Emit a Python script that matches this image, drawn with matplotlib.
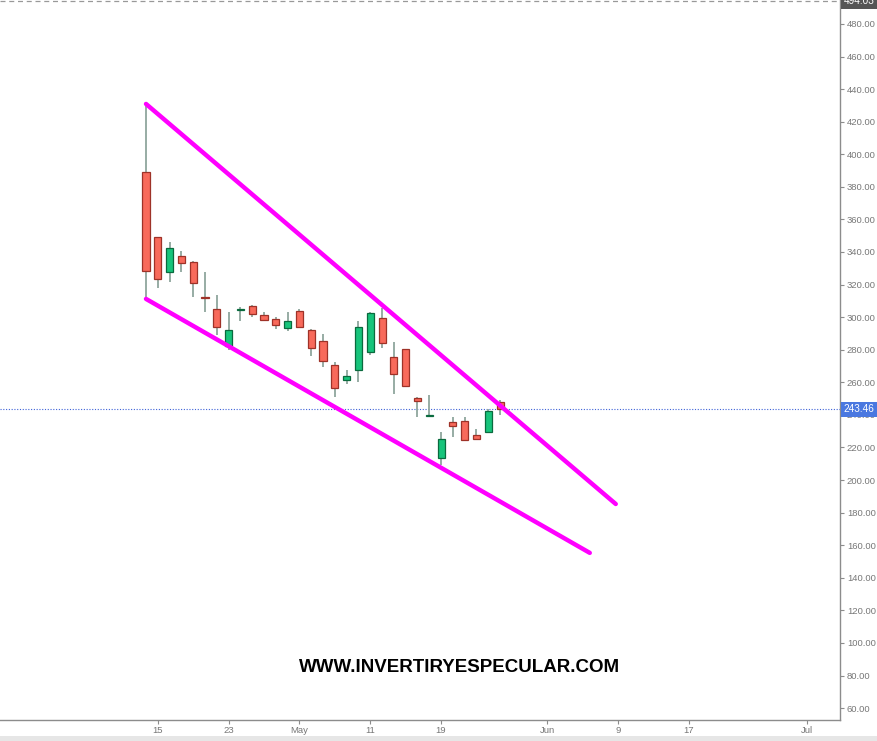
import numpy as np
import matplotlib.pyplot as plt
from matplotlib.patches import Rectangle

# OHLC (one candle per trading day)
opens = [389.0, 349.2, 327.6, 337.6, 333.9, 312.2, 305.0, 282.0, 304.3, 307.0,
         301.3, 298.7, 293.2, 304.0, 292.2, 285.4, 270.5, 261.3, 267.4, 278.8,
         299.3, 275.8, 280.3, 250.6, 239.3, 213.8, 235.9, 236.1, 227.7, 229.7,
         247.8]
highs = [430.9, 349.5, 346.4, 340.8, 334.2, 327.6, 313.6, 303.0, 306.5, 307.5,
         303.2, 300.1, 303.2, 305.0, 292.5, 289.5, 272.3, 267.6, 297.5, 303.4,
         305.5, 285.0, 280.6, 250.9, 252.3, 229.4, 239.0, 239.0, 231.2, 243.8,
         249.2]
lows = [311.0, 317.7, 321.4, 327.6, 312.6, 303.0, 289.1, 280.0, 297.9, 300.0,
        298.0, 292.6, 291.7, 294.0, 276.4, 269.3, 250.8, 258.8, 260.4, 276.8,
        281.3, 252.7, 257.0, 239.0, 239.0, 209.3, 226.7, 224.0, 225.2, 228.7,
        240.0]
closes = [328.6, 323.3, 342.3, 333.1, 321.2, 311.8, 293.8, 292.0, 304.6, 302.0,
          298.2, 295.0, 297.5, 294.2, 280.9, 273.0, 256.7, 263.7, 293.8, 302.8,
          284.0, 265.1, 258.0, 248.4, 239.6, 225.1, 233.4, 224.4, 225.4, 242.4,
          243.46]

# trend lines (start/end candle index, price)
upper_x = [0, 39.8]
upper_y = [430.9, 185.3]
lower_x = [0, 37.6]
lower_y = [311.2, 155.3]

tick_pos = [1, 7, 13, 19, 25, 34, 40, 46, 56]
tick_labels = ['15', '23', 'May', '11', '19', 'Jun', '9', '17', 'Jul']
y_ticks = np.arange(60, 481, 20)

last_price = 243.46
top_price = 494.03

red_fill, red_edge = '#f86a5b', '#9e3228'
green_fill, green_edge = '#17c47b', '#0a6a3e'
wick_col = '#8fa69d'
axis_col = '#8c8c8c'

fig = plt.figure(figsize=(8.77, 7.41), dpi=100)
fig.patch.set_facecolor('white')
ax = fig.add_axes([0, 21 / 741, 840 / 877, 720 / 741])

body_w = 0.6
for i, (o, h, l, c) in enumerate(zip(opens, highs, lows, closes)):
    up = c >= o
    ax.plot([i, i], [l, h], color=wick_col, lw=1.3, zorder=2, solid_capstyle='butt')
    bottom = min(o, c)
    height = max(abs(c - o), 0.6)
    ax.add_patch(Rectangle((i - body_w / 2, bottom), body_w, height,
                           facecolor=green_fill if up else red_fill,
                           edgecolor=green_edge if up else red_edge,
                           lw=0.9, zorder=3))

# wedge lines
ax.plot(upper_x, upper_y, color='#ff00ff', lw=3.2, solid_capstyle='round', zorder=4)
ax.plot(lower_x, lower_y, color='#ff00ff', lw=3.2, solid_capstyle='round', zorder=4)

# price reference lines
ax.axhline(last_price, color='#3f63d8', lw=0.8, ls=(0, (1, 1.5)), zorder=1)
ax.axhline(top_price, color='#999999', lw=0.9, ls=(0, (4, 3)), zorder=1)

ax.set_xlim(-12.37, 58.8)
ax.set_ylim(52.7, 494.7)

ax.yaxis.tick_right()
ax.set_yticks(y_ticks)
ax.set_yticklabels([f'{v:.2f}' for v in y_ticks])
ax.set_xticks(tick_pos)
ax.set_xticklabels(tick_labels)
ax.tick_params(axis='y', colors=axis_col, labelsize=6.8, length=3, width=0.8, pad=2)
ax.tick_params(axis='x', colors=axis_col, labelsize=6.8, length=3, width=0.8, pad=1)
for lbl in ax.get_xticklabels() + ax.get_yticklabels():
    lbl.set_color('#777777')
    lbl.set_family('Liberation Sans')

for side in ['top', 'left']:
    ax.spines[side].set_visible(False)
for side in ['right', 'bottom']:
    ax.spines[side].set_color(axis_col)
    ax.spines[side].set_linewidth(1.0)

# price tags on the right axis
ax.text(1.004, last_price, f'{last_price:.2f}', transform=ax.get_yaxis_transform(),
        ha='left', va='center', fontsize=7.2, color='white', zorder=6,
        family='Liberation Sans',
        bbox=dict(boxstyle='square,pad=0.25', facecolor='#4a78e0', edgecolor='none'))
ax.text(1.004, top_price, f'{top_price:.2f}', transform=ax.get_yaxis_transform(),
        ha='left', va='center', fontsize=7.2, color='white', zorder=6, clip_on=False,
        family='Liberation Sans',
        bbox=dict(boxstyle='square,pad=0.25', facecolor='#555555', edgecolor='none'))

# watermark
fig.text(0.524, 1 - 668 / 741, 'WWW.INVERTIRYESPECULAR.COM',
         ha='center', va='center', fontsize=13.5, fontweight='bold', color='black',
         family='Liberation Sans')

# gray strip at the bottom
fig.add_artist(Rectangle((0, 0), 1, 5 / 741, transform=fig.transFigure,
                         facecolor='#e6e6e6', edgecolor='none'))

plt.savefig('out.png', dpi=100)
